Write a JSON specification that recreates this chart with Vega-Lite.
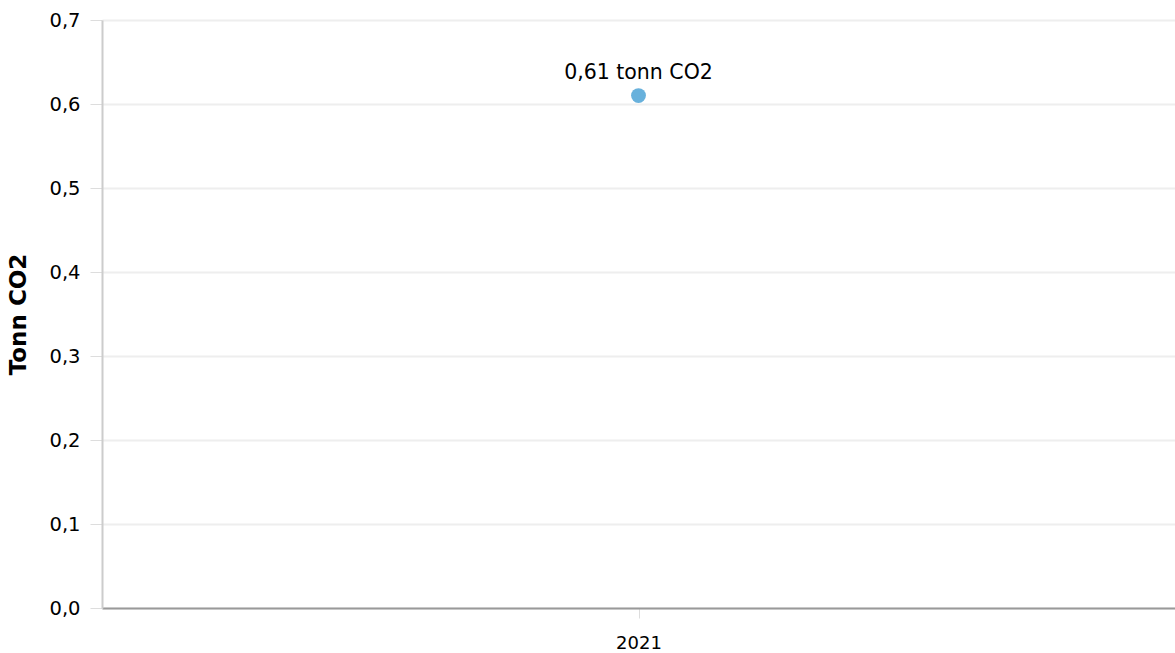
{
  "$schema": "https://vega.github.io/schema/vega-lite/v6.json",
  "width": 1073,
  "height": 588,
  "autosize": {"type": "none"},
  "padding": {"left": 102, "top": 20, "right": 0, "bottom": 45},
  "background": "white",
  "data": {"values": [{"year": "2021", "co2": 0.61, "label": "0,61 tonn CO2"}]},
  "config": {
    "locale": {"number": {"decimal": ",", "thousands": " ", "grouping": [3], "currency": ["", " kr"]}},
    "font": "DejaVu Sans",
    "view": {"stroke": null}
  },
  "encoding": {
    "x": {
      "field": "year", "type": "ordinal",
      "scale": {"type": "point", "padding": 0.5},
      "axis": {
        "title": null, "labelAngle": 0, "labelFontSize": 18, "labelColor": "#000",
        "labelPadding": 16, "domainColor": "#999", "domainWidth": 2,
        "tickColor": "#ddd", "tickSize": 10, "grid": false
      }
    },
    "y": {
      "field": "co2", "type": "quantitative",
      "scale": {"domain": [0, 0.7], "nice": false},
      "axis": {
        "title": "Tonn CO2", "titleFontSize": 23, "titleFontWeight": "bold", "titleColor": "#000",
        "titlePadding": 18,
        "format": ".1f", "values": [0, 0.1, 0.2, 0.3, 0.4, 0.5, 0.6, 0.7],
        "labelFontSize": 19.5, "labelColor": "#000", "labelPadding": 10,
        "domainColor": "#ccc", "domainWidth": 2,
        "tickColor": "#ddd", "tickSize": 12, "gridColor": "#eee", "gridWidth": 2
      }
    }
  },
  "layer": [
    {"mark": {"type": "point", "filled": true, "size": 220, "color": "#68b1dc", "opacity": 1}},
    {"mark": {"type": "text", "dy": -23, "fontSize": 20.5, "color": "#000"}, "encoding": {"text": {"field": "label"}}}
  ]
}
